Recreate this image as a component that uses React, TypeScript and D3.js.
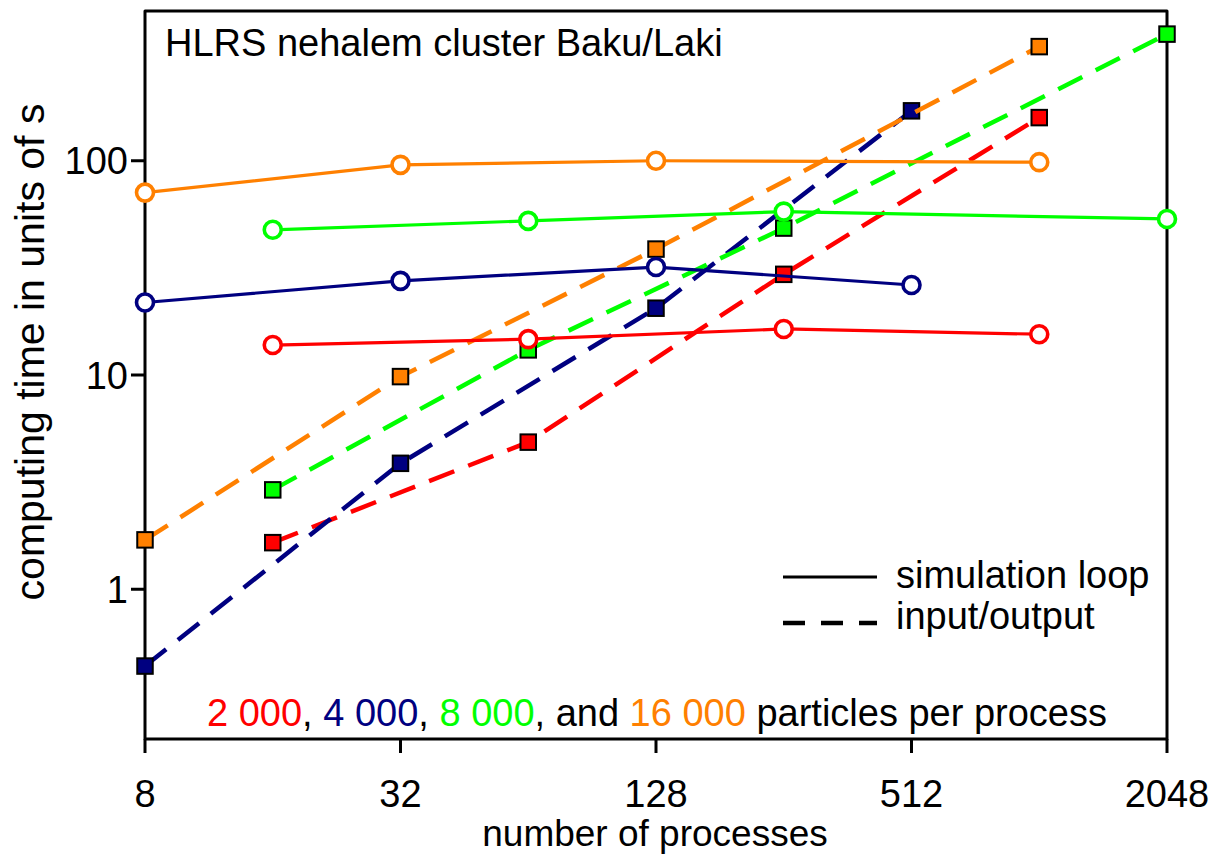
import React from "react";
import * as d3 from "d3";

// Number of MPI processes used in each run
const redProcs = [16, 64, 256, 1024];
const blueProcs = [8, 32, 128, 512];
const greenProcs = [16, 64, 256, 2048];
const orangeProcs = [8, 32, 128, 1024];

// Simulation loop time (s)
const redLoop = [13.8, 14.7, 16.4, 15.5];
const blueLoop = [21.8, 27.5, 31.9, 26.3];
const greenLoop = [47.6, 52.4, 57.9, 53.5];
const orangeLoop = [71, 95.7, 100, 98.5];

// Input/output time (s)
const redIO = [1.65, 4.86, 29.5, 159];
const blueIO = [0.438, 3.87, 20.5, 171];
const greenIO = [2.91, 13.1, 48.5, 390];
const orangeIO = [1.7, 9.83, 38.7, 341];

const xTicks = [8, 32, 128, 512, 2048];
const yTicks = [1, 10, 100];

const seriesLabels = ["2 000", "4 000", "8 000", "16 000"];
const seriesColors = ["#ff0000", "#000080", "#00ff00", "#ff8000"];

const W = 1211;
const H = 857;
const left = 145;
const right = 1167;
const top = 11;
const bottom = 739;

const FONT = "'Liberation Sans', Arial, sans-serif";
const FS = 38;

export default function App() {
  const x = d3.scaleLog().base(2).domain([8, 2048]).range([left, right]);
  const y = d3.scaleLog().domain([0.2, 500]).range([bottom, top]);

  const series = [
    { procs: redProcs, loop: redLoop, io: redIO, color: seriesColors[0] },
    { procs: blueProcs, loop: blueLoop, io: blueIO, color: seriesColors[1] },
    { procs: greenProcs, loop: greenLoop, io: greenIO, color: seriesColors[2] },
    { procs: orangeProcs, loop: orangeLoop, io: orangeIO, color: seriesColors[3] },
  ];

  const line = d3
    .line<[number, number]>()
    .x((d) => x(d[0]))
    .y((d) => y(d[1]));

  const pairs = (procs: number[], vals: number[]) =>
    procs.map((p, i) => [p, vals[i]] as [number, number]);

  const sq = 15.5;

  return (
    <svg
      width={W}
      height={H}
      style={{ position: "absolute", left: 0, top: 0, background: "#fff" }}
      fontFamily={FONT}
    >
      {/* frame */}
      <path
        d={`M${left},${bottom} L${left},${top} L${right},${top} L${right},${bottom} Z`}
        fill="none"
        stroke="#000"
        strokeWidth={3}
        strokeLinejoin="round"
      />
      {/* y ticks */}
      {yTicks.map((t) => (
        <g key={`yt${t}`}>
          <line x1={left - 14} x2={left} y1={y(t)} y2={y(t)} stroke="#000" strokeWidth={3} />
          <text x={left - 17} y={y(t)} dy="0.36em" textAnchor="end" fontSize={FS}>
            {t}
          </text>
        </g>
      ))}
      {/* x ticks */}
      {xTicks.map((t) => (
        <g key={`xt${t}`}>
          <line x1={x(t)} x2={x(t)} y1={bottom} y2={bottom + 14} stroke="#000" strokeWidth={3} />
          <text x={x(t)} y={807} textAnchor="middle" fontSize={FS}>
            {t}
          </text>
        </g>
      ))}
      <text x={655} y={846} textAnchor="middle" fontSize={37}>
        number of processes
      </text>
      <text
        transform={`translate(44,352) rotate(-90)`}
        textAnchor="middle"
        fontSize={41}
      >
        computing time in units of s
      </text>

      <text x={165} y={56} fontSize={FS}>
        HLRS nehalem cluster Baku/Laki
      </text>

      {/* legend */}
      <line x1={783} x2={877} y1={577} y2={577} stroke="#000" strokeWidth={3} />
      <text x={896} y={588} fontSize={FS}>
        simulation loop
      </text>
      <line
        x1={783}
        x2={877}
        y1={623}
        y2={623}
        stroke="#000"
        strokeWidth={4.5}
        strokeDasharray="22 16"
      />
      <text x={896} y={629} fontSize={FS}>
        input/output
      </text>

      <text x={207} y={726} fontSize={FS}>
        <tspan fill={seriesColors[0]}>{seriesLabels[0]}</tspan>
        <tspan>, </tspan>
        <tspan fill={seriesColors[1]}>{seriesLabels[1]}</tspan>
        <tspan>, </tspan>
        <tspan fill={seriesColors[2]}>{seriesLabels[2]}</tspan>
        <tspan>, and </tspan>
        <tspan fill={seriesColors[3]}>{seriesLabels[3]}</tspan>
        <tspan> particles per process</tspan>
      </text>

      {/* input/output: dashed lines with filled squares */}
      {series.map((s, i) => (
        <g key={`io${i}`}>
          <path
            d={line(pairs(s.procs, s.io)) || ""}
            fill="none"
            stroke={s.color}
            strokeWidth={4.5}
            strokeDasharray="27 15"
          />
          {s.procs.map((p, j) => (
            <rect
              key={j}
              x={x(p) - sq / 2}
              y={y(s.io[j]) - sq / 2}
              width={sq}
              height={sq}
              fill={s.color}
              stroke="#000"
              strokeWidth={2}
            />
          ))}
        </g>
      ))}

      {/* simulation loop: solid lines with open circles */}
      {series.map((s, i) => (
        <g key={`loop${i}`}>
          <path
            d={line(pairs(s.procs, s.loop)) || ""}
            fill="none"
            stroke={s.color}
            strokeWidth={3.2}
          />
          {s.procs.map((p, j) => (
            <circle
              key={j}
              cx={x(p)}
              cy={y(s.loop[j])}
              r={8.5}
              fill="#fff"
              stroke={s.color}
              strokeWidth={3.6}
            />
          ))}
        </g>
      ))}
    </svg>
  );
}
